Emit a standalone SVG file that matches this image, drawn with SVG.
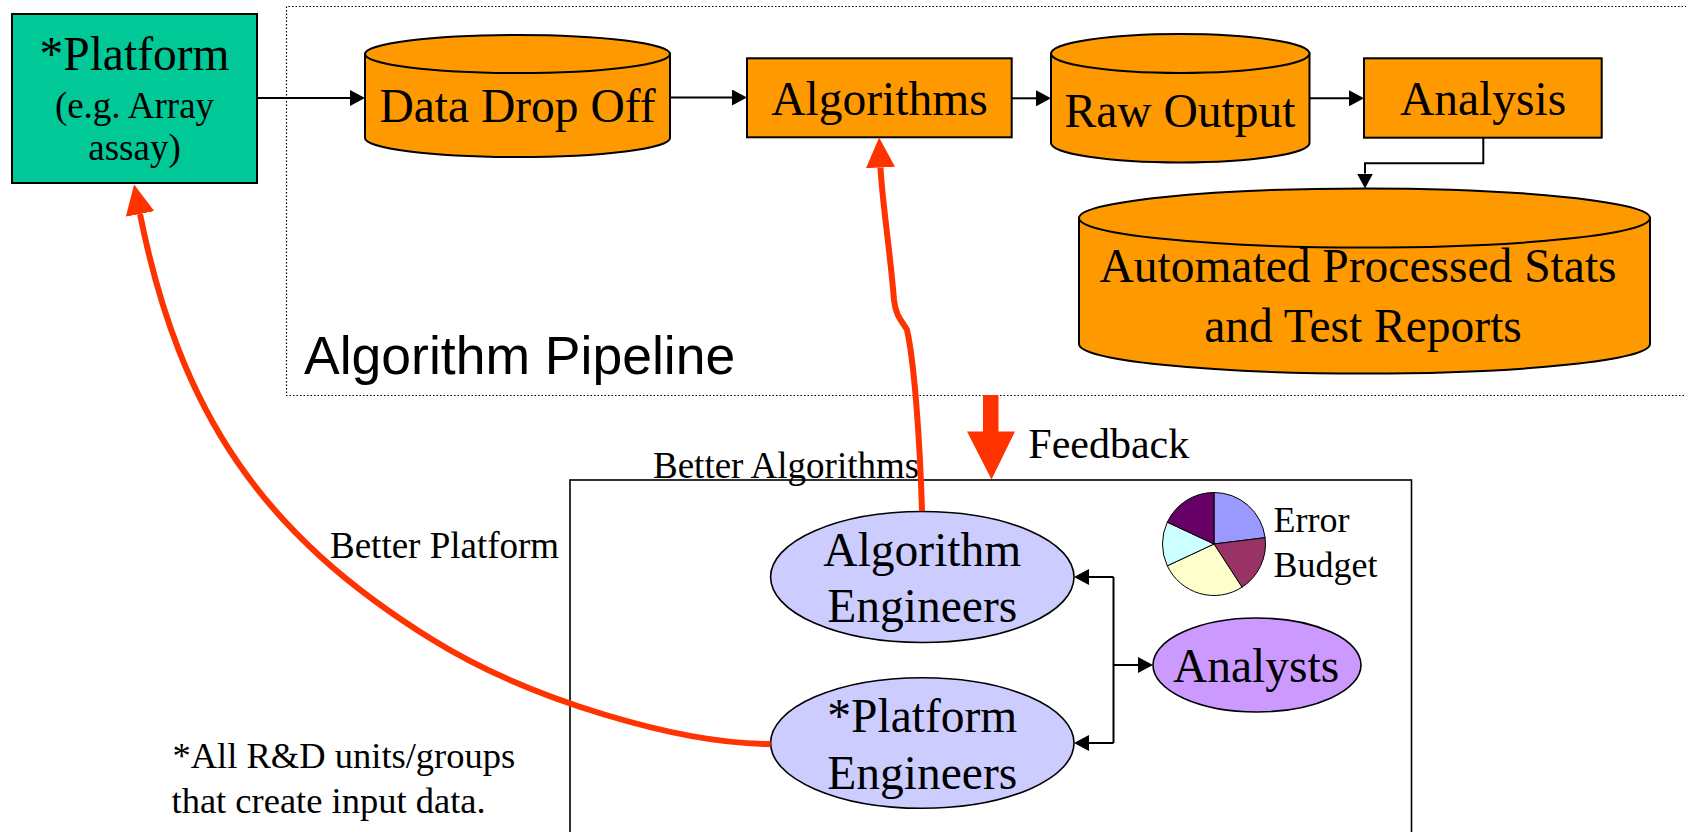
<svg xmlns="http://www.w3.org/2000/svg" width="1686" height="832" viewBox="0 0 1686 832">
<style>
.serif{font-family:"Liberation Serif","Times New Roman",serif;fill:#000}
.sans{font-family:"Liberation Sans",Arial,sans-serif;fill:#000}
.big{font-size:47.5px}
.mid{font-size:37px}
.orange{fill:#FF9900;stroke:#000;stroke-width:2}
.eng{fill:#CCCCFF;stroke:#000;stroke-width:1.6}
.blk{fill:none;stroke:#000;stroke-width:2}
.red{fill:none;stroke:#FF3300;stroke-width:6}
.slice{stroke:#000;stroke-width:1}
</style>
<defs>
<marker id="ah" viewBox="0 0 15 16" refX="0" refY="8" markerWidth="15" markerHeight="16" markerUnits="userSpaceOnUse" orient="auto">
<path d="M0,0 L15,8 L0,16 Z" fill="#000"/>
</marker>
<marker id="rh" viewBox="0 0 30 29" refX="0" refY="14.5" markerWidth="30" markerHeight="29" markerUnits="userSpaceOnUse" orient="auto">
<path d="M0,0 L30,14.5 L0,29 Z" fill="#FF3300"/>
</marker>
</defs>
<rect width="1686" height="832" fill="#fff"/>

<g id="pipeline-frame">
<path d="M1690 6.5 H286.5 V395.5 H1690" fill="none" stroke="#000" stroke-width="1.2" stroke-dasharray="1.5 2"/>
<text class="sans" x="304" y="374" font-size="53.5px">Algorithm Pipeline</text>
</g>

<g id="team-frame">
<rect x="570" y="480" width="841.5" height="370" fill="none" stroke="#000" stroke-width="1.6"/>
</g>

<g id="platform">
<rect x="12" y="14" width="245" height="169" fill="#00C896" stroke="#000" stroke-width="2"/>
<text class="serif big" x="134.5" y="70" text-anchor="middle">*Platform</text>
<text class="serif mid" x="134.5" y="118.3" text-anchor="middle">(e.g. Array</text>
<text class="serif mid" x="134.5" y="160" text-anchor="middle">assay)</text>
</g>

<g id="data-drop-off">
<path class="orange" d="M365 54 V138 A152.5 19 0 0 0 670 138 V54 Z"/>
<ellipse class="orange" cx="517.5" cy="54" rx="152.5" ry="19"/>
<text class="serif big" x="517.5" y="121.7" text-anchor="middle">Data Drop Off</text>
</g>

<g id="algorithms">
<rect class="orange" x="747" y="58.3" width="264.7" height="79"/>
<text class="serif big" x="879.5" y="115" text-anchor="middle">Algorithms</text>
</g>

<g id="raw-output">
<path class="orange" d="M1051 53.5 V143 A129.25 19.5 0 0 0 1309.5 143 V53.5 Z"/>
<ellipse class="orange" cx="1180.25" cy="53.5" rx="129.25" ry="19.5"/>
<text class="serif big" x="1180" y="126.7" text-anchor="middle">Raw Output</text>
</g>

<g id="analysis">
<rect class="orange" x="1364" y="58.3" width="237.7" height="79.4"/>
<text class="serif big" x="1483" y="115" text-anchor="middle">Analysis</text>
</g>

<g id="reports">
<path class="orange" d="M1079 218 V344 A285.5 29.5 0 0 0 1650 344 V218 Z"/>
<ellipse class="orange" cx="1364.5" cy="218" rx="285.5" ry="29.5"/>
<text class="serif big" x="1358" y="281.7" text-anchor="middle">Automated Processed Stats</text>
<text class="serif big" x="1363" y="341.7" text-anchor="middle">and Test Reports</text>
</g>

<g id="algorithm-engineers">
<ellipse class="eng" cx="922.3" cy="577" rx="151.7" ry="65.5"/>
<text class="serif big" x="922.3" y="566" text-anchor="middle">Algorithm</text>
<text class="serif big" x="922.3" y="621.7" text-anchor="middle">Engineers</text>
</g>

<g id="platform-engineers">
<ellipse class="eng" cx="922.3" cy="743" rx="151.7" ry="65.3"/>
<text class="serif big" x="922.3" y="731.7" text-anchor="middle">*Platform</text>
<text class="serif big" x="922.3" y="789" text-anchor="middle">Engineers</text>
</g>

<g id="analysts">
<ellipse cx="1257" cy="665" rx="104" ry="47" fill="#CC99FF" stroke="#000" stroke-width="1.6"/>
<text class="serif big" x="1256" y="681.7" text-anchor="middle">Analysts</text>
</g>

<g id="error-budget">
<path class="slice" fill="#9999FF" d="M1214 544 L1214 492.5 A51.5 51.5 0 0 1 1265.1 537.7 Z"/>
<path class="slice" fill="#993366" d="M1214 544 L1265.1 537.7 A51.5 51.5 0 0 1 1242 587.2 Z"/>
<path class="slice" fill="#FFFFCC" d="M1214 544 L1242 587.2 A51.5 51.5 0 0 1 1167.3 565.8 Z"/>
<path class="slice" fill="#CCFFFF" d="M1214 544 L1167.3 565.8 A51.5 51.5 0 0 1 1167.3 522.2 Z"/>
<path class="slice" fill="#660066" d="M1214 544 L1167.3 522.2 A51.5 51.5 0 0 1 1214 492.5 Z"/>
<text class="serif" x="1273.5" y="531.7" font-size="36px">Error</text>
<text class="serif" x="1273.5" y="576.7" font-size="36px">Budget</text>
</g>

<g id="labels">
<text class="serif" x="1028.3" y="458.3" font-size="42px">Feedback</text>
<text class="serif mid" x="653" y="478">Better Algorithms</text>
<text class="serif mid" x="330" y="558">Better Platform</text>
<text class="serif" x="172.5" y="768.3" font-size="36.5px">*All R&amp;D units/groups</text>
<text class="serif" x="171.5" y="813.3" font-size="36.5px">that create input data.</text>
</g>

<g id="connectors">
<path class="blk" d="M257 98 H350" marker-end="url(#ah)"/>
<path class="blk" d="M670 97.5 H732" marker-end="url(#ah)"/>
<path class="blk" d="M1011.7 98.3 H1036" marker-end="url(#ah)"/>
<path class="blk" d="M1309.5 98.3 H1349" marker-end="url(#ah)"/>
<path class="blk" d="M1483.3 137.7 V163.3 H1365 V173.5" marker-end="url(#ah)"/>
<path class="blk" d="M1113.5 577 V743"/>
<path class="blk" d="M1113.5 577 H1089" marker-end="url(#ah)"/>
<path class="blk" d="M1113.5 743 H1089" marker-end="url(#ah)"/>
<path class="blk" d="M1113.5 665 H1138" marker-end="url(#ah)"/>
<path class="red" d="M922 511 C920 440 914 360 907 330 C903 322 896 318 894 300 C890 250 882 200 880.5 167.5" marker-end="url(#rh)"/>
<path class="red" d="M770.7 744 C680 744 530 700 433 640 C263 534.8 180 414 140 214" marker-end="url(#rh)"/>
<polygon points="983,395 998.5,395 998.5,431.5 1015,431.5 991.5,479.5 967,431.5 983,431.5" fill="#FF3300"/>
</g>
</svg>
